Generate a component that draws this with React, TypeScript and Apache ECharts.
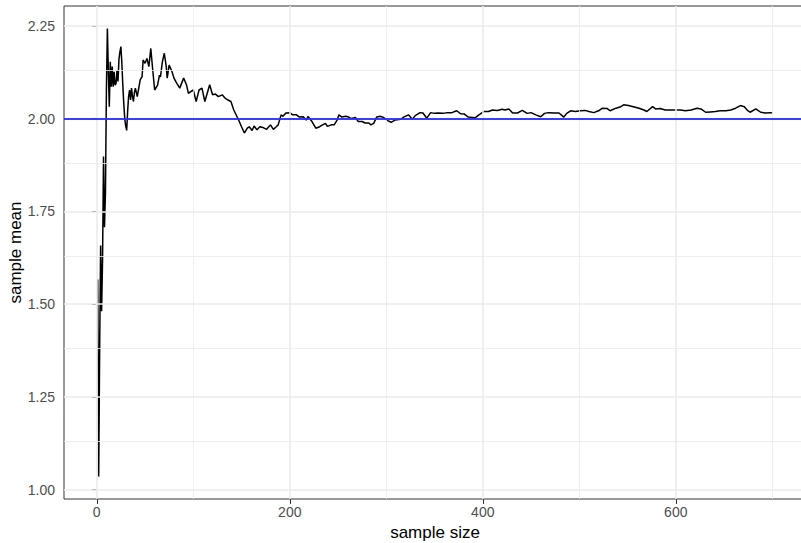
import React, { useEffect, useRef } from "react";
import * as echarts from "echarts";

const sampleSize = [
  1, 2, 3, 4, 5, 6, 7, 8, 9, 10, 11, 12, 13, 14, 15, 16, 17, 18, 19, 20,
  21, 22, 23, 24, 25, 26, 27, 28, 29, 30, 31, 32, 33, 34, 35, 36, 37, 38, 39, 40,
  42, 45, 47, 48, 50, 52, 54, 56, 58, 60, 63, 65, 66, 68, 70, 72, 73, 75, 78, 80,
  83, 86, 90, 93, 95, 97, 100, 103, 106, 109, 112, 117, 120, 123, 126, 130, 133, 136, 139, 142,
  147, 150, 153, 156, 158, 161, 163, 166, 169, 173, 176, 180, 183, 186, 188, 191, 193, 196, 200, 203,
  207, 210, 214, 217, 219, 223, 227, 231, 234, 237, 239, 243, 246, 249, 251, 254, 258, 261, 264, 268,
  271, 275, 278, 282, 284, 287, 290, 294, 297, 301, 305, 309, 315, 318, 323, 327, 330, 335, 338, 342,
  346, 350, 354, 359, 363, 368, 373, 377, 381, 385, 389, 392, 396, 401, 406, 410, 415, 420, 423, 427,
  431, 436, 441, 446, 450, 455, 460, 464, 468, 474, 479, 484, 487, 491, 496, 501, 506, 510, 515, 520,
  524, 529, 532, 538, 543, 546, 551, 556, 562, 567, 570, 576, 579, 584, 589, 595, 600, 605, 610, 616,
  622, 626, 631, 636, 641, 646, 652, 657, 662, 667, 671, 674, 677, 683, 688, 693, 698, 700,
];

const sampleMean = [
  1.566, 1.035, 1.38, 1.658, 1.481, 1.62, 1.898, 1.707, 1.8, 2.077, 2.243, 2.13, 2.032, 2.153, 2.086, 2.14, 2.086, 2.126, 2.09, 2.095,
  2.13, 2.1, 2.16, 2.18, 2.194, 2.15, 2.09, 2.04, 2.0, 1.98, 1.968, 2.02, 2.06, 2.077, 2.05, 2.082, 2.06, 2.046, 2.07, 2.082,
  2.059, 2.104, 2.113, 2.158, 2.149, 2.162, 2.14, 2.189, 2.131, 2.077, 2.09, 2.117, 2.112, 2.153, 2.176, 2.14, 2.109, 2.144, 2.126, 2.109,
  2.095, 2.082, 2.109, 2.091, 2.068, 2.072, 2.077, 2.046, 2.077, 2.082, 2.046, 2.091, 2.064, 2.066, 2.059, 2.064, 2.055, 2.05, 2.046, 2.023,
  1.996, 1.978, 1.961, 1.974, 1.978, 1.968, 1.98, 1.97, 1.978, 1.975, 1.971, 1.983, 1.971, 1.978, 1.983, 2.01, 2.006, 2.015, 2.016, 2.01,
  2.01, 2.004, 2.005, 1.996, 2.006, 1.992, 1.974, 1.978, 1.983, 1.987, 1.979, 1.983, 1.983, 1.996, 2.01, 2.004, 2.006, 2.004, 2.0, 2.003,
  1.992, 1.992, 1.988, 1.988, 1.983, 1.987, 2.004, 2.006, 2.003, 1.995, 1.99, 1.996, 1.998, 2.004, 2.01, 1.998, 2.008, 2.016, 2.015, 2.001,
  2.016, 2.014, 2.015, 2.014, 2.016, 2.016, 2.021, 2.013, 2.012, 2.004, 2.003, 2.002, 2.01, 2.019, 2.019, 2.023, 2.022, 2.025, 2.023, 2.026,
  2.015, 2.015, 2.022, 2.014, 2.016, 2.01, 2.005, 2.014, 2.016, 2.015, 2.015, 2.004, 2.014, 2.021, 2.019, 2.021, 2.022, 2.019, 2.016, 2.021,
  2.028, 2.027, 2.021, 2.028, 2.032, 2.037, 2.035, 2.032, 2.028, 2.023, 2.019, 2.032, 2.026, 2.027, 2.023, 2.023, 2.023, 2.023, 2.021, 2.023,
  2.028, 2.026, 2.017, 2.018, 2.019, 2.021, 2.021, 2.023, 2.028, 2.035, 2.032, 2.023, 2.017, 2.026, 2.017, 2.015, 2.016, 2.015,
];

const xTicks = [0, 200, 400, 600];
const xMinorGrid = [100, 300, 500, 700];
const yTicks = [1.0, 1.25, 1.5, 1.75, 2.0, 2.25];
const yMinorGrid = [1.125, 1.375, 1.625, 1.875, 2.125];
const trueMean = 2;

const FONT = "'Liberation Sans', Arial, Helvetica, sans-serif";

export default function App() {
  const ref = useRef<HTMLDivElement>(null);

  useEffect(() => {
    if (!ref.current) return;
    const chart = echarts.init(ref.current, null, { renderer: "svg" });
    const points = sampleSize.map((n, i) => [n, sampleMean[i]]);
    const gridColor = "#EBEBEB";
    const gridLines = [
      ...xTicks.map((v) => ({ xAxis: v, lineStyle: { color: gridColor, width: 1.6, type: "solid" } })),
      ...xMinorGrid.map((v) => ({ xAxis: v, lineStyle: { color: gridColor, width: 0.8, type: "solid" } })),
      ...yTicks.map((v) => ({ yAxis: v, lineStyle: { color: gridColor, width: 1.6, type: "solid" } })),
      ...yMinorGrid.map((v) => ({ yAxis: v, lineStyle: { color: gridColor, width: 0.8, type: "solid" } })),
    ];
    chart.setOption({
      animation: false,
      backgroundColor: "#ffffff",
      textStyle: { fontFamily: FONT },
      grid: {
        left: 64,
        top: 6,
        width: 742,
        height: 493,
        show: true,
        borderColor: "#333333",
        borderWidth: 1,
        backgroundColor: "#ffffff",
        containLabel: false,
        outerBoundsMode: "none",
      },
      xAxis: {
        type: "value",
        min: -33.95,
        max: 734.95,
        name: "sample size",
        nameLocation: "middle",
        nameGap: 25,
        nameMoveOverlap: false,
        nameTextStyle: { color: "#000000", fontSize: 17, fontFamily: FONT },
        axisLine: { show: false },
        axisTick: { show: true, customValues: xTicks, length: 5, lineStyle: { color: "#333333", width: 1 } },
        axisLabel: { customValues: xTicks, color: "#4D4D4D", fontSize: 14, margin: 6, fontFamily: FONT },
        splitLine: { show: false },
      },
      yAxis: {
        type: "value",
        min: 0.9746,
        max: 2.3034,
        name: "sample mean",
        nameLocation: "middle",
        nameGap: 40,
        nameMoveOverlap: false,
        nameTextStyle: { color: "#000000", fontSize: 17, fontFamily: FONT },
        axisLine: { show: false },
        axisTick: { show: true, customValues: yTicks, length: 5, lineStyle: { color: "#333333", width: 1 } },
        axisLabel: {
          customValues: yTicks,
          color: "#4D4D4D",
          fontSize: 14,
          margin: 9,
          fontFamily: FONT,
          formatter: (v: number) => v.toFixed(2),
        },
        splitLine: { show: false },
      },
      series: [
        {
          type: "line",
          data: [],
          silent: true,
          z: 1,
          markLine: {
            silent: true,
            symbol: ["none", "none"],
            label: { show: false },
            data: gridLines,
          },
        },
        {
          type: "line",
          data: points,
          showSymbol: false,
          symbol: "none",
          z: 3,
          lineStyle: { color: "#000000", width: 1.5 },
        },
        {
          type: "line",
          data: [],
          silent: true,
          z: 4,
          markLine: {
            silent: true,
            symbol: ["none", "none"],
            label: { show: false },
            data: [{ yAxis: trueMean, lineStyle: { color: "#0000FF", width: 1.6, type: "solid" } }],
          },
        },
      ],
    });
    return () => chart.dispose();
  }, []);

  return (
    <div
      ref={ref}
      style={{ position: "fixed", left: 0, top: 0, width: 801, height: 543, overflow: "hidden", background: "#fff" }}
    />
  );
}
